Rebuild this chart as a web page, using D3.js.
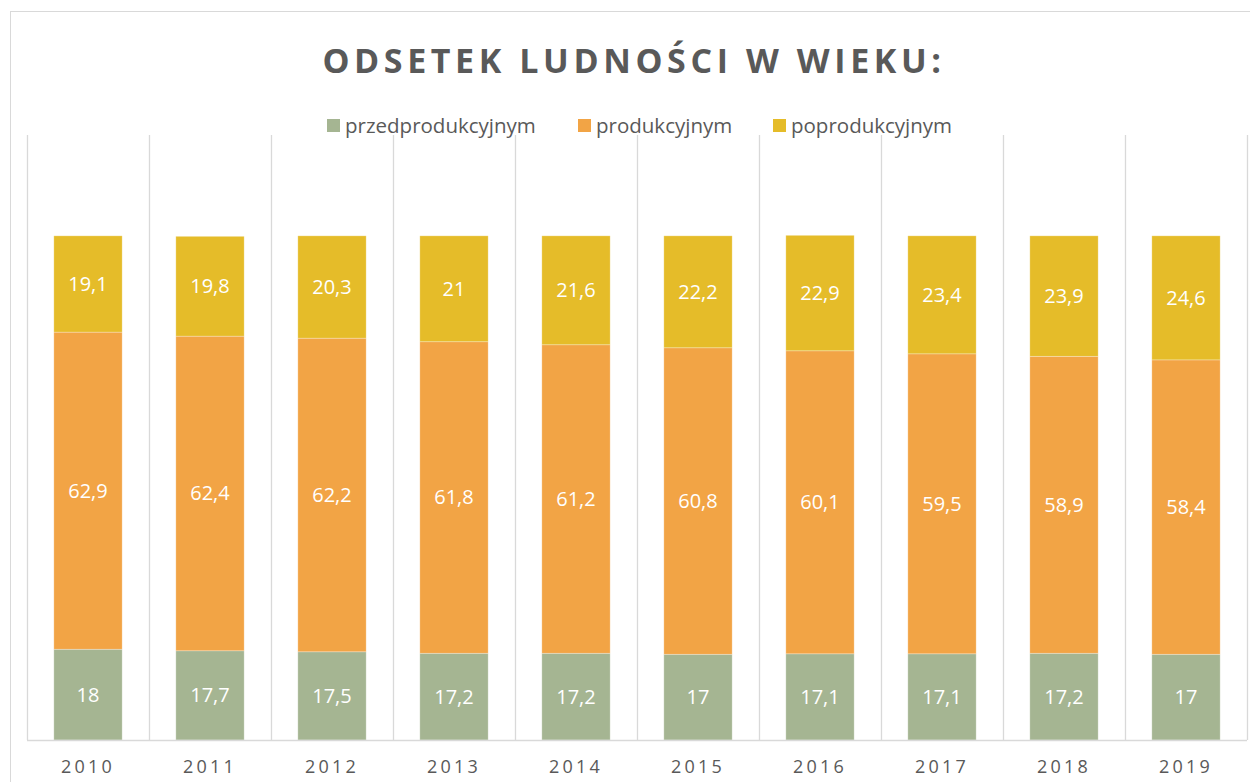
<!DOCTYPE html>
<html><head><meta charset="utf-8">
<script src="https://cdn.jsdelivr.net/npm/d3@7"></script>
<style>body{margin:0;background:#fff}svg{display:block}</style>
</head><body>
<script>
const years = ["2010","2011","2012","2013","2014","2015","2016","2017","2018","2019"];
const seriesNames = ["przedprodukcyjnym","produkcyjnym","poprodukcyjnym"];
const przed = [18,17.7,17.5,17.2,17.2,17,17.1,17.1,17.2,17];
const prod = [62.9,62.4,62.2,61.8,61.2,60.8,60.1,59.5,58.9,58.4];
const popr = [19.1,19.8,20.3,21,21.6,22.2,22.9,23.4,23.9,24.6];
const colors = ["#A5B592","#F2A445","#E5BC29"];

const W=1250,H=782;
const svg=d3.select("body").append("svg").attr("width",W).attr("height",H);
svg.append("rect").attr("x",10.5).attr("y",11.5).attr("width",1300).attr("height",900)
  .attr("fill","#fff").attr("stroke","#D9D9D9").attr("stroke-width",1);

const x=d3.scaleBand().domain(years).range([27,1247]).paddingInner(0.44).paddingOuter(0.22);
const y=d3.scaleLinear().domain([0,120]).range([740,135]);

const rows=years.map((yr,i)=>({year:yr,przedprodukcyjnym:przed[i],produkcyjnym:prod[i],poprodukcyjnym:popr[i]}));
const stack=d3.stack().keys(seriesNames)(rows);

// gridlines (category separators)
const g=svg.append("g");
d3.range(years.length+1).forEach(i=>{
  const gx=Math.round(27+i*(1220/years.length))+0.5;
  g.append("line").attr("x1",gx).attr("x2",gx).attr("y1",135).attr("y2",740)
   .attr("stroke","#D9D9D9").attr("stroke-width",1.3);
});

stack.forEach((s,si)=>{
  const gg=svg.append("g");
  gg.selectAll("rect").data(s).join("rect")
    .attr("x",d=>x(d.data.year)).attr("width",x.bandwidth())
    .attr("y",d=>y(d[1])).attr("height",d=>y(d[0])-y(d[1]))
    .attr("fill",colors[si]).attr("stroke","#fff").attr("stroke-opacity",0.35).attr("stroke-width",0.8);
  gg.selectAll("text").data(s).join("text")
    .attr("x",d=>x(d.data.year)+x.bandwidth()/2).attr("y",d=>(y(d[0])+y(d[1]))/2)
    .attr("dy","0.35em").attr("text-anchor","middle")
    .attr("font-family","Open Sans, sans-serif").attr("font-size",20).attr("fill","#fff")
    .text(d=>String(d.data[seriesNames[si]]).replace(".",","));
});

// axis
const ax=svg.append("g").attr("transform","translate(0,740)").call(d3.axisBottom(x).tickSize(0).tickPadding(20));
ax.select(".domain").attr("stroke","#D9D9D9").attr("stroke-width",1.3).attr("d","M27,0.5H1247");
ax.selectAll("text").attr("font-family","Open Sans, sans-serif").attr("font-size",18)
  .attr("fill","#595959").attr("letter-spacing","3.2px");

// title
svg.append("text").attr("x",634).attr("y",73).attr("text-anchor","middle")
  .attr("font-family","Open Sans, sans-serif").attr("font-weight","bold").attr("font-size",34)
  .attr("letter-spacing","4.6px").attr("fill","#595959").text("ODSETEK LUDNOŚCI W WIEKU:");

// legend
const legX=[327,578,773];
seriesNames.forEach((n,i)=>{
  svg.append("rect").attr("x",legX[i]).attr("y",119).attr("width",13).attr("height",13).attr("fill",colors[i]);
  svg.append("text").attr("x",legX[i]+18).attr("y",126).attr("dy","0.35em")
    .attr("font-family","Open Sans, sans-serif").attr("font-size",20.5).attr("fill","#595959").text(n);
});
</script>
</body></html>
